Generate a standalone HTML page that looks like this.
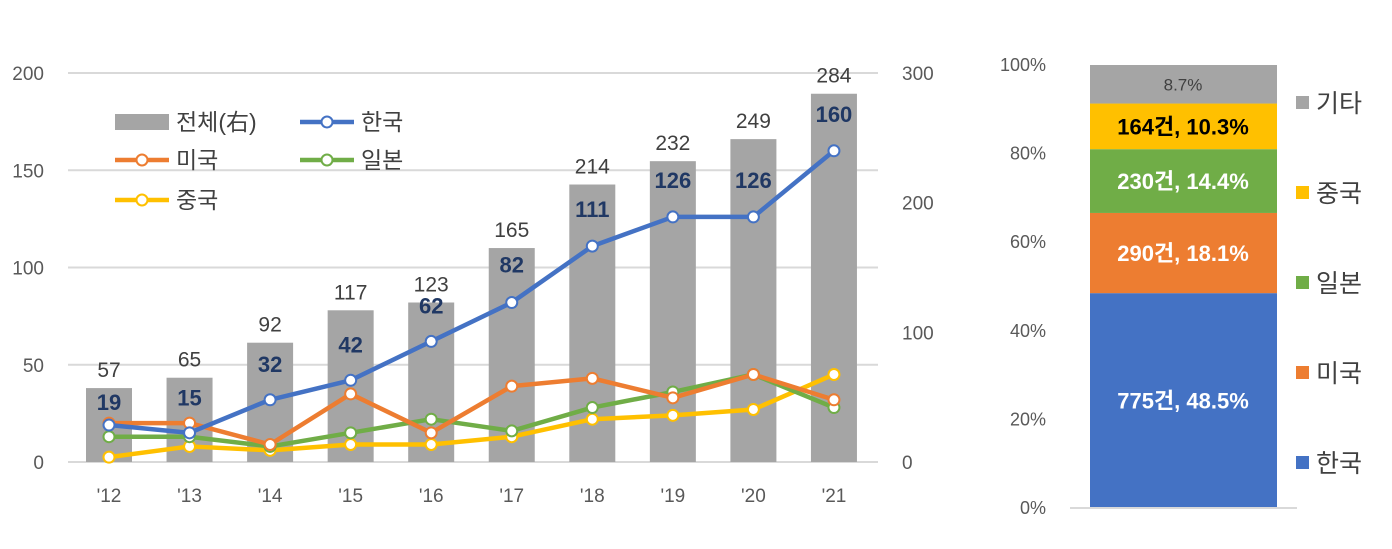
<!DOCTYPE html>
<html><head><meta charset="utf-8"><style>
body{margin:0;background:#fff;}
svg text{font-family:"Liberation Sans","Noto Sans CJK KR",sans-serif;}
</style></head><body>
<svg width="1392" height="544" xmlns="http://www.w3.org/2000/svg" id="chart">
<g id="g"></g>
</svg>
<script>
const years=["'12","'13","'14","'15","'16","'17","'18","'19","'20","'21"];
const totals=[57,65,92,117,123,165,214,232,249,284];
const korea=[19,15,32,42,62,82,111,126,126,160];
const usa=[20,20,9,35,15,39,43,33,45,32];
const japan=[13,13,8,15,22,16,28,36,45,28];
const china=[2.5,8,6,9,9,13,22,24,27,45];
const leftTicks=[0,50,100,150,200];
const rightTicks=[0,100,200,300];
const shareNames=["한국","미국","일본","중국","기타"];
const shareVals=[48.5,18.1,14.4,10.3,8.7];
const shareCounts=["775건","290건","230건","164건",""];
const shareTicks=[0,20,40,60,80,100];
const NS="http://www.w3.org/2000/svg";
const g=document.getElementById('g');
function el(t,a,txt){const e=document.createElementNS(NS,t);for(const k in a)e.setAttribute(k,a[k]);if(txt!==undefined)e.textContent=txt;g.appendChild(e);return e;}
const yL=v=>462-v*389/200, yR=v=>462-v*389/300, xC=i=>109+i*80.55;
leftTicks.forEach(t=>{
 const l=el('line',{x1:68,x2:878,y1:yL(t),y2:yL(t),stroke:'#d9d9d9','stroke-width':2});
 
 const tx=el('text',{x:44,y:yL(t)+7,'font-size':19,fill:'#595959','text-anchor':'end'},t);
 
});
rightTicks.forEach(t=>{
 const tx=el('text',{x:902,y:yR(t)+7,'font-size':19,fill:'#595959'},t);
 
});
years.forEach((y,i)=>{
 const b=el('rect',{x:xC(i)-23,y:yR(totals[i]),width:46,height:462-yR(totals[i]),fill:'#a5a5a5'});
 
 const t=el('text',{x:xC(i),y:yR(totals[i])-11,'font-size':21,fill:'#404040','text-anchor':'middle'},totals[i]);
 
 const xl=el('text',{x:xC(i),y:502,'font-size':19,fill:'#595959','text-anchor':'middle'},y);
 
});
function series(d,c,name){
 const p=el('polyline',{points:d.map((v,i)=>xC(i)+','+yL(v)).join(' '),fill:'none',stroke:c,'stroke-width':4.5,'stroke-linejoin':'round'});
 
 d.forEach((v,i)=>{const m=el('circle',{cx:xC(i),cy:yL(v),r:5.5,fill:'#fff',stroke:c,'stroke-width':2});
 });
}
series(china,'#ffc000','china');series(japan,'#70ad47','japan');series(usa,'#ed7d31','usa');series(korea,'#4472c4','korea');
korea.forEach((v,i)=>{
 let y;
 if(i==0) y=yR(totals[i])+22;
 else if(i==1) y=yR(totals[i])+28;
 else if(i>=6) y=yL(v)-29;
 else if(i==5) y=yL(v)-30;
 else y=yL(v)-28;
 const t=el('text',{x:xC(i),y:y,'font-size':22,'font-weight':'bold',fill:'#203864','text-anchor':'middle'},v);
 
});
// legend
const leg=[[115,122,'bar','#a5a5a5','전체(右)'],[300,122,'line','#4472c4','한국'],[115,160,'line','#ed7d31','미국'],[300,160,'line','#70ad47','일본'],[115,200,'line','#ffc000','중국']];
leg.forEach(L=>{
 if(L[2]=='bar'){const r=el('rect',{x:L[0],y:L[1]-8,width:54,height:16,fill:'#a5a5a5'});}
 else{const l=el('line',{x1:L[0],x2:L[0]+54,y1:L[1],y2:L[1],stroke:L[3],'stroke-width':4.5});
 const c=el('circle',{cx:L[0]+27,cy:L[1],r:5.5,fill:'#fff',stroke:L[3],'stroke-width':2});}
 const t=el('text',{x:L[0]+61,y:L[1]+8,'font-size':23,fill:'#404040'},L[4]);
});
// stacked chart
const yS=v=>508-v*443/100;
shareTicks.forEach(t=>{const tx=el('text',{x:1046,y:yS(t)+6,'font-size':18,fill:'#595959','text-anchor':'end'},t+'%');
 });
const cols=['#4472c4','#ed7d31','#70ad47','#ffc000','#a5a5a5'];
let acc=0;
shareVals.forEach((v,i)=>{
 const r=el('rect',{x:1090,y:yS(acc+v),width:187,height:yS(acc)-yS(acc+v),fill:cols[i]});
 
 const cy=(yS(acc)+yS(acc+v))/2;
 const lab=shareCounts[i]?shareCounts[i]+', '+v+'%':v+'%';
 const t=el('text',{x:1183,y:cy+(i==4?6:8),'font-size':i==4?17:22,'font-weight':i==4?'normal':'bold',fill:i==3?'#000':(i==4?'#404040':'#fff'),'text-anchor':'middle'},lab);
 
 acc+=v;
});
const ax=el('line',{x1:1070,x2:1297,y1:508,y2:508,stroke:'#d9d9d9','stroke-width':2});
const legY=[463,373,283,193,103];
shareNames.forEach((n,i)=>{
 const r=el('rect',{x:1296,y:legY[i]-7,width:13,height:13,fill:cols[i]});
 const t=el('text',{x:1316,y:legY[i]+9,'font-size':25,fill:'#404040'},n);
});
</script>
</body></html>
